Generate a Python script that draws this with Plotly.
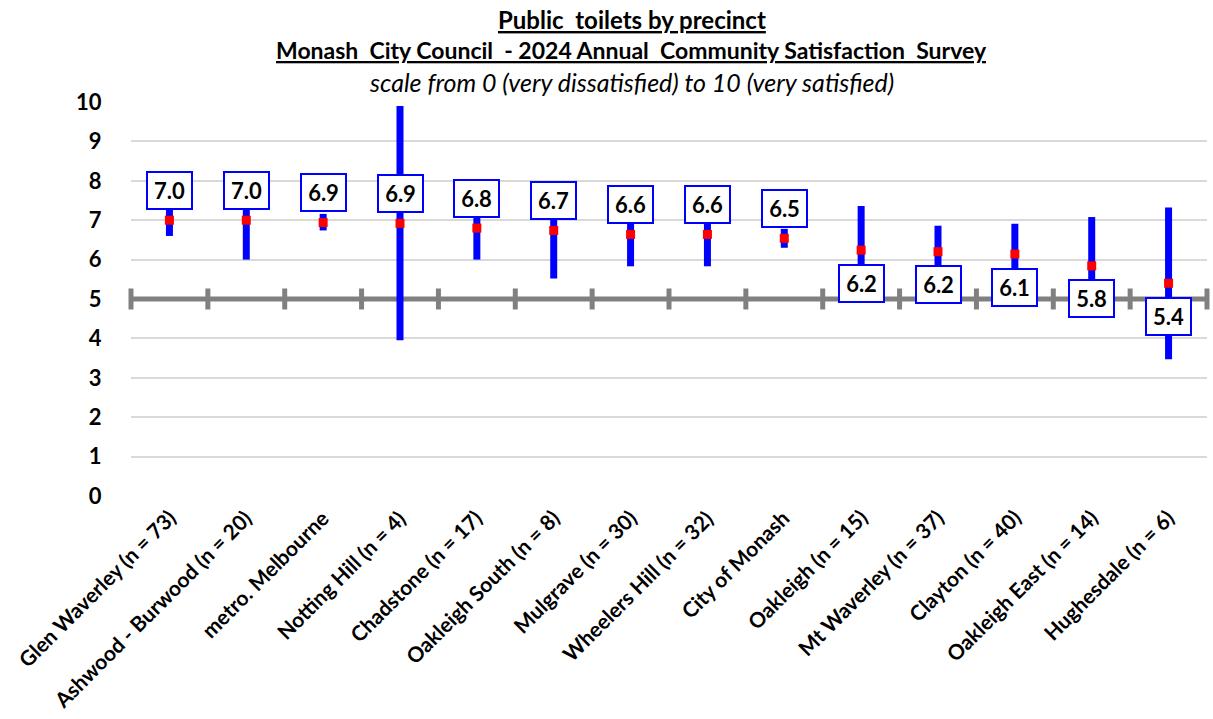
import plotly.graph_objects as go

categories = ["Glen Waverley (n = 73)", "Ashwood - Burwood (n = 20)", "metro. Melbourne",
              "Notting Hill (n = 4)", "Chadstone (n = 17)", "Oakleigh South (n = 8)",
              "Mulgrave (n = 30)", "Wheelers Hill (n = 32)", "City of Monash",
              "Oakleigh (n = 15)", "Mt Waverley (n = 37)", "Clayton (n = 40)",
              "Oakleigh East (n = 14)", "Hughesdale (n = 6)"]
means = [7.0, 7.0, 6.94, 6.92, 6.8, 6.74, 6.64, 6.64, 6.54, 6.24, 6.2, 6.14, 5.84, 5.4]
lows = [6.6, 6.0, 6.74, 3.95, 6.0, 5.52, 5.83, 5.83, 6.3, 5.12, 5.54, 5.37, 4.56, 3.47]
highs = [7.4, 8.0, 7.16, 9.9, 7.6, 7.96, 7.45, 7.45, 6.78, 7.36, 6.86, 6.91, 7.08, 7.32]
label_pos = ["above"] * 9 + ["below"] * 5
benchmark = 5
y_ticks = list(range(0, 11))

FONT = "Lato, 'Liberation Sans', sans-serif"
BLUE = "#0000FF"
RED = "#FF0000"
GREY = "#808080"

n = len(categories)
xs = list(range(n))
bounds = [k - 0.5 for k in range(n + 1)]

fig = go.Figure()
# benchmark line at 5 with boundary tick marks (category axis crossing)
fig.add_trace(go.Scatter(x=[bounds[0], bounds[-1]], y=[benchmark, benchmark], mode="lines",
                         line=dict(color=GREY, width=5), showlegend=False, hoverinfo="skip"))
fig.add_trace(go.Scatter(x=bounds, y=[benchmark] * len(bounds), mode="markers",
                         marker=dict(symbol="line-ns", size=15, line=dict(color=GREY, width=5)),
                         showlegend=False, hoverinfo="skip", cliponaxis=False))
fig.add_trace(go.Scatter(
    x=xs, y=means, mode="markers",
    marker=dict(symbol="square", size=9, color=RED),
    error_y=dict(type="data", symmetric=False,
                 array=[h - m for h, m in zip(highs, means)],
                 arrayminus=[m - l for m, l in zip(means, lows)],
                 color=BLUE, thickness=7, width=0),
    showlegend=False, hoverinfo="skip"))

annotations = []
for i, (m, p) in enumerate(zip(means, label_pos)):
    annotations.append(dict(
        x=i, y=m, xref="x", yref="y", text=f"<b>{m:.1f}</b>", showarrow=False,
        font=dict(family=FONT, size=22, color="black"),
        bgcolor="white", bordercolor=BLUE, borderwidth=2, borderpad=1,
        width=41, height=33, valign="middle",
        yshift=30 if p == "above" else -33))

for i, c in enumerate(categories):
    annotations.append(dict(
        x=i, y=0, xref="x", yref="paper", text=f"<b>{c}</b>", showarrow=False,
        textangle=-45, xanchor="right", yanchor="top", xshift=13, yshift=-6,
        font=dict(family=FONT, size=21, color="black")))

titles = [("<b><u>Public  toilets by precinct</u></b>", 83, 24),
          ("<b><u>Monash  City Council  - 2024 Annual  Community Satisfaction  Survey</u></b>", 52, 23),
          ("<i>scale from 0 (very dissatisfied) to 10 (very satisfied)</i>", 20, 25)]
for t, ys, fs in titles:
    annotations.append(dict(x=0.4656, y=1, xref="paper", yref="paper", xanchor="center",
                            yanchor="middle", yshift=ys, text=t, showarrow=False,
                            font=dict(family=FONT, size=fs, color="black")))

fig.update_layout(
    width=1213, height=719,
    margin=dict(l=131, r=6, t=102, b=223, autoexpand=False),
    paper_bgcolor="white", plot_bgcolor="white",
    annotations=annotations,
    font=dict(family=FONT, color="black"),
    xaxis=dict(range=[bounds[0], bounds[-1]], showgrid=False, zeroline=False,
               showline=False, showticklabels=False, ticks="", automargin=False),
    yaxis=dict(range=[0, 10], tickvals=y_ticks, ticktext=[f"<b>{v}</b>" for v in y_ticks],
               showgrid=True, gridcolor="#D9D9D9", gridwidth=1.5, zeroline=False,
               showline=False, ticks="outside", ticklen=24, tickcolor="rgba(0,0,0,0)",
               automargin=False,
               tickfont=dict(family=FONT, size=22, color="black")),
)

fig.write_html("out.html", config={"displayModeBar": False},
               post_script="document.body.style.margin='0';")
